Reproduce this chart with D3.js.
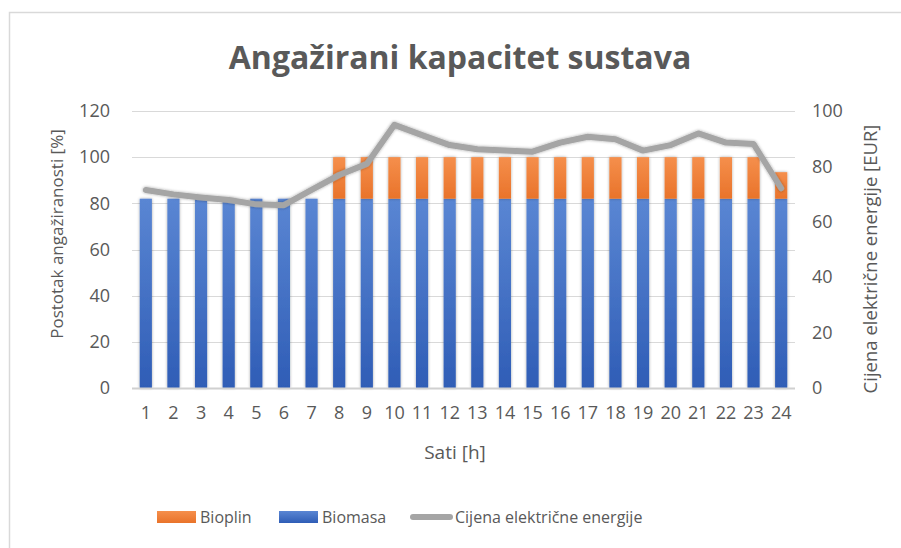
<!DOCTYPE html>
<html>
<head>
<meta charset="utf-8">
<script src="https://cdn.jsdelivr.net/npm/d3@7"></script>
<style>
  body { margin: 0; background: #fff; }
  text { font-family: "Open Sans", sans-serif; fill: #595959; }
</style>
</head>
<body>
<div id="chart"></div>
<script>
// data
var hours = d3.range(1, 25).map(String)
var biomasa = [82, 82, 82, 82, 82, 82, 82, 82, 82, 82, 82, 82, 82, 82, 82, 82, 82, 82, 82, 82, 82, 82, 82, 82]
var bioplin = [0, 0, 0, 0, 0, 0, 0, 18, 18, 18, 18, 18, 18, 18, 18, 18, 18, 18, 18, 18, 18, 18, 18, 11.5]
var cijena = [71.5, 69.9, 68.8, 67.9, 66.3, 66, 71.5, 76.9, 80.9, 95, 91.3, 87.7, 86.2, 85.7, 85.3, 88.6, 90.7, 89.8, 85.7, 87.7, 91.9, 88.6, 88.1, 72.1]
var leftTicks = [0, 20, 40, 60, 80, 100, 120]
var rightTicks = [0, 20, 40, 60, 80, 100]

var W = 901, H = 548
var plot = {left: 132, right: 795, top: 111, bottom: 388}

var svg = d3.select("#chart").append("svg")
    .attr("width", W)
    .attr("height", H)

var defs = svg.append("defs")
var gb = defs.append("linearGradient").attr("id", "gBlue").attr("x1", 0).attr("y1", 0).attr("x2", 0).attr("y2", 1)
gb.append("stop").attr("offset", "0%").attr("stop-color", "#5a86d3")
gb.append("stop").attr("offset", "100%").attr("stop-color", "#2f5db6")
var go = defs.append("linearGradient").attr("id", "gOrange").attr("x1", 0).attr("y1", 0).attr("x2", 0).attr("y2", 1)
go.append("stop").attr("offset", "0%").attr("stop-color", "#f58f4c")
go.append("stop").attr("offset", "100%").attr("stop-color", "#e9732a")
var sh = defs.append("filter").attr("id", "shadow").attr("x", "-50%").attr("y", "-10%").attr("width", "200%").attr("height", "120%")
sh.append("feDropShadow").attr("dx", 0).attr("dy", 0).attr("stdDeviation", 1.6)
    .attr("flood-color", "#000").attr("flood-opacity", 0.35)

// chart border (only left and top visible)
svg.append("rect")
    .attr("x", 9.5).attr("y", 12.5)
    .attr("width", 900).attr("height", 560)
    .style("fill", "none")
    .style("stroke", "#d9d9d9")
    .style("stroke-width", 1.5)

var x = d3.scaleBand()
    .domain(hours)
    .range([plot.left, plot.right])
    .paddingInner(0.56)
    .paddingOuter(0.28)

var yL = d3.scaleLinear().domain([0, 120]).range([plot.bottom, plot.top])
var yR = d3.scaleLinear().domain([0, 100]).range([plot.bottom, plot.top])

// gridlines
svg.append("g")
  .selectAll("line")
  .data(leftTicks.slice(1))
  .enter().append("line")
    .attr("x1", plot.left).attr("x2", plot.right)
    .attr("y1", function (d) { return Math.round(yL(d)) + 0.5 })
    .attr("y2", function (d) { return Math.round(yL(d)) + 0.5 })
    .style("stroke", "#d9d9d9")
    .style("stroke-width", 1)

// stacked bars
var stackData = hours.map(function (h, i) { return {hour: h, biomasa: biomasa[i], bioplin: bioplin[i]} })
var series = d3.stack().keys(["biomasa", "bioplin"])(stackData)
var fills = {biomasa: "url(#gBlue)", bioplin: "url(#gOrange)"}

svg.append("g")
  .selectAll("g")
  .data(series)
  .enter().append("g")
    .style("fill", function (s) { return fills[s.key] })
  .selectAll("rect")
  .data(function (s) { return s.filter(function (d) { return d[1] - d[0] > 0 }) })
  .enter().append("rect")
    .attr("x", function (d) { return x(d.data.hour) })
    .attr("width", x.bandwidth())
    .attr("y", function (d) { return yL(d[1]) })
    .attr("height", function (d) { return yL(d[0]) - yL(d[1]) })
    .attr("filter", "url(#shadow)")

// baseline
svg.append("line")
    .attr("x1", plot.left).attr("x2", plot.right)
    .attr("y1", plot.bottom + 0.5).attr("y2", plot.bottom + 0.5)
    .style("stroke", "#d0d0d0")
    .style("stroke-width", 2)

// price line
var line = d3.line()
    .x(function (d, i) { return x(hours[i]) + x.bandwidth() / 2 })
    .y(function (d) { return yR(d) })

svg.append("path")
    .datum(cijena)
    .attr("d", line)
    .attr("filter", "url(#shadow)")
    .style("fill", "none")
    .style("stroke", "#a5a5a5")
    .style("stroke-width", 6)
    .style("stroke-linejoin", "round")
    .style("stroke-linecap", "round")

// axes
svg.append("g")
    .attr("transform", "translate(" + plot.left + ",0)")
    .call(d3.axisLeft(yL).tickValues(leftTicks).tickSize(0).tickPadding(22))
svg.append("g")
    .attr("transform", "translate(" + plot.right + ",0)")
    .call(d3.axisRight(yR).tickValues(rightTicks).tickSize(0).tickPadding(17))
svg.append("g")
    .attr("transform", "translate(0," + plot.bottom + ")")
    .call(d3.axisBottom(x).tickSize(0).tickPadding(18))

svg.selectAll(".domain").remove()
svg.selectAll(".tick text")
    .style("font-size", "18px")
    .style("font-family", "'Open Sans', sans-serif")
    .attr("fill", "#595959")

// title
svg.append("text")
    .attr("x", 460)
    .attr("y", 69)
    .attr("text-anchor", "middle")
    .style("font-size", "32px")
    .style("font-weight", "bold")
    .text("Angažirani kapacitet sustava")

// axis titles
svg.append("text")
    .attr("transform", "translate(63,234) rotate(-90)")
    .attr("text-anchor", "middle")
    .style("font-size", "17px")
    .text("Postotak angažiranosti [%]")

svg.append("text")
    .attr("transform", "translate(877,259) rotate(-90)")
    .attr("text-anchor", "middle")
    .style("font-size", "18.5px")
    .text("Cijena električne energije [EUR]")

svg.append("text")
    .attr("x", 455)
    .attr("y", 459)
    .attr("text-anchor", "middle")
    .style("font-size", "19px")
    .text("Sati [h]")

// legend
var legend = svg.append("g")
legend.append("rect").attr("x", 157).attr("y", 511).attr("width", 39).attr("height", 12).style("fill", "url(#gOrange)")
legend.append("text").attr("x", 200).attr("y", 523).style("font-size", "16px").text("Bioplin")
legend.append("rect").attr("x", 279).attr("y", 511).attr("width", 39).attr("height", 12).style("fill", "url(#gBlue)")
legend.append("text").attr("x", 322).attr("y", 523).style("font-size", "16px").text("Biomasa")
legend.append("line").attr("x1", 413).attr("x2", 450).attr("y1", 517).attr("y2", 517)
    .style("stroke", "#a5a5a5").style("stroke-width", 6).style("stroke-linecap", "round")
legend.append("text").attr("x", 455).attr("y", 523).style("font-size", "16px").text("Cijena električne energije")
</script>
</body>
</html>
